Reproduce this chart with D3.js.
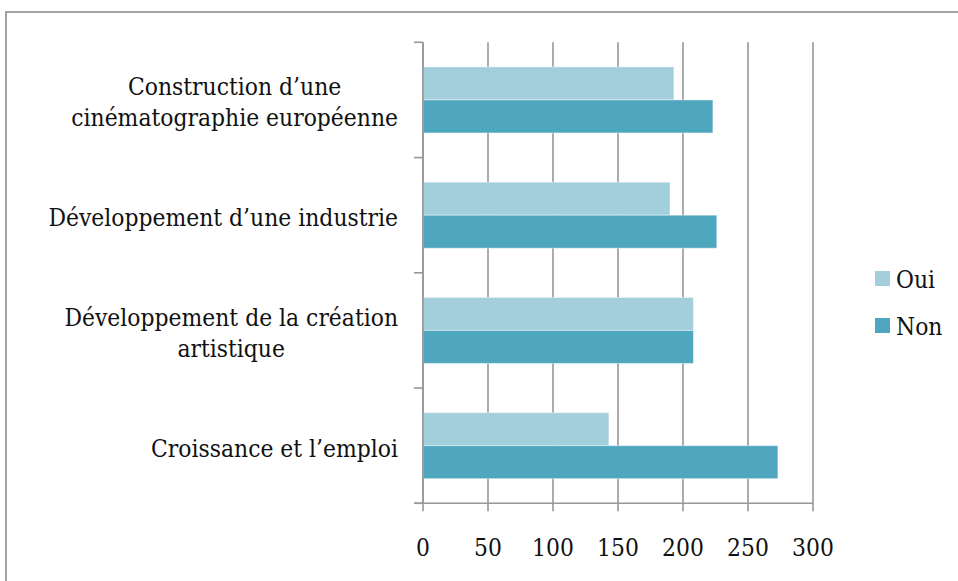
<!DOCTYPE html>
<html><head><meta charset="utf-8">
<script src="https://cdn.jsdelivr.net/npm/d3@7"></script>
<style>
html,body{margin:0;padding:0;background:#fff;}
svg text{font-family:"DejaVu Serif Condensed","DejaVu Serif",serif;font-stretch:condensed;fill:#111;}
</style></head>
<body><svg id="c" width="958" height="581"></svg>
<script>
const categories = [
  ["Construction d\u2019une", "cin\u00e9matographie europ\u00e9enne"],
  ["D\u00e9veloppement d\u2019une industrie"],
  ["D\u00e9veloppement de la cr\u00e9ation", "artistique"],
  ["Croissance et l\u2019emploi"]
];
const series = ["Oui", "Non"];
const oui = [193, 190, 208, 143];
const non = [223, 226, 208, 273];
const xTicks = [0, 50, 100, 150, 200, 250, 300];
const colors = {Oui: "#a3cedc", Non: "#4fa6bf"};

const svg = d3.select("#c");
const W = 958, H = 581;
const m = {left: 423, right: 813, top: 42.3, bottom: 503.3};

const probe = svg.append("text").attr("font-size", 24).text(categories[3][0]);
const pw = probe.node().getComputedTextLength();
probe.remove();
const fs = Math.min(26, 24 * 247 / pw);

svg.append("rect").attr("x", 6).attr("y", 12).attr("width", W + 10).attr("height", H + 10)
  .attr("fill", "none").attr("stroke", "#a2a2a2").attr("stroke-width", 2);

const catKeys = categories.map((c, i) => i);
const x = d3.scaleLinear().domain([0, 300]).range([m.left, m.right]);
const y0 = d3.scaleBand().domain(catKeys).range([m.top, m.bottom]).padding(0);
const y1 = d3.scaleBand().domain(series).range([0, y0.bandwidth()]).paddingInner(0).paddingOuter(0.745);

const gridColor = "#979797";
svg.append("g").selectAll("line").data(xTicks).join("line")
  .attr("x1", d => x(d)).attr("x2", d => x(d))
  .attr("y1", m.top).attr("y2", m.bottom + 8)
  .attr("stroke", gridColor).attr("stroke-width", 1.6);

const data = catKeys.map(i => ({i, vals: [{s: "Oui", v: oui[i]}, {s: "Non", v: non[i]}]}));
const g = svg.append("g");
g.selectAll("g").data(data).join("g")
  .attr("transform", d => `translate(0,${y0(d.i)})`)
  .selectAll("rect").data(d => d.vals).join("rect")
  .attr("x", x(0)).attr("y", d => y1(d.s))
  .attr("width", d => x(d.v) - x(0)).attr("height", y1.bandwidth())
  .attr("fill", d => colors[d.s])
  .attr("stroke", "rgba(255,255,255,0.45)").attr("stroke-width", 1);

const bounds = catKeys.map(i => y0(i)).concat([m.bottom]);
svg.append("line").attr("x1", m.left).attr("x2", m.left).attr("y1", m.top).attr("y2", m.bottom)
  .attr("stroke", gridColor).attr("stroke-width", 1.6);
svg.append("g").selectAll("line").data(bounds).join("line")
  .attr("x1", m.left - 9).attr("x2", m.left).attr("y1", d => d).attr("y2", d => d)
  .attr("stroke", gridColor).attr("stroke-width", 1.6);
svg.append("line").attr("x1", m.left - 9).attr("x2", m.right).attr("y1", m.bottom).attr("y2", m.bottom)
  .attr("stroke", gridColor).attr("stroke-width", 1.6);

svg.append("g").selectAll("text").data(xTicks).join("text")
  .attr("x", d => x(d)).attr("y", 556).attr("text-anchor", "middle")
  .attr("font-size", fs).text(d => d);

const lh = 31;
const labelRight = 398;
catKeys.forEach(i => {
  const lines = categories[i];
  const cy = y0(i) + y0.bandwidth() / 2;
  const gg = svg.append("g");
  const ts = lines.map((t, k) => gg.append("text").attr("font-size", fs)
      .attr("text-anchor", "middle")
      .attr("y", cy + (k - (lines.length - 1) / 2) * lh + fs * 0.33 + 3).text(t));
  const wmax = d3.max(ts, t => t.node().getComputedTextLength());
  ts.forEach(t => t.attr("x", labelRight - wmax / 2));
});

const lg = svg.append("g").selectAll("g").data(series).join("g")
  .attr("transform", (d, k) => `translate(875,${271 + k * 47})`);
lg.append("rect").attr("width", 15).attr("height", 15).attr("fill", d => colors[d]);
lg.append("text").attr("x", 21).attr("y", 17).attr("font-size", fs).text(d => d);
</script></body></html>
